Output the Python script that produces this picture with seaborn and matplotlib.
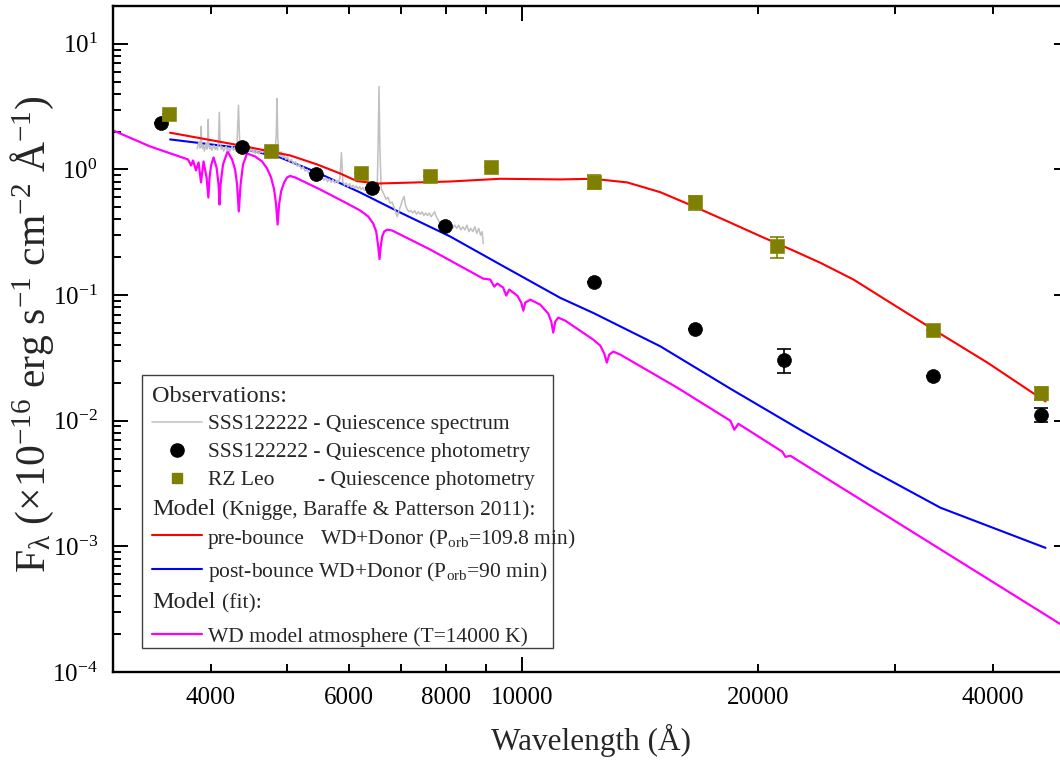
import matplotlib
matplotlib.use('Agg')
import matplotlib.pyplot as plt
import seaborn as sns
from matplotlib.lines import Line2D
from matplotlib.patches import Rectangle
from matplotlib.ticker import FixedLocator, FuncFormatter, LogLocator, NullFormatter

# SSS122222 quiescence photometry
sss_wave = [3460, 4390, 5450, 6420, 7980, 12350, 16620, 21590, 33530, 46030]
sss_flux = [2.33, 1.52, 0.912, 0.715, 0.353, 0.127, 0.0538, 0.0306, 0.0225, 0.0112]
sss_err = [0, 0, 0, 0, 0, 0, 0, 0.0065, 0, 0.0015]

# RZ Leo quiescence photometry
rz_wave = [3540, 4770, 6230, 7630, 9130, 12350, 16620, 21190, 33530, 46030]
rz_flux = [2.74, 1.39, 0.941, 0.885, 1.05, 0.798, 0.549, 0.245, 0.0531, 0.0166]
rz_err = [0, 0, 0, 0, 0, 0.1, 0.07, 0.047, 0, 0.002]

# SSS122222 quiescence spectrum
spec_wave = [3842, 3855, 3866, 3875, 3882, 3889, 3896, 3905, 3915, 3925, 3935, 3945,
             3955, 3963, 3970, 3977, 3988, 4000, 4012, 4025, 4040, 4052, 4065, 4080,
             4092, 4102, 4112, 4125, 4140, 4155, 4170, 4185, 4200, 4215, 4230, 4245,
             4260, 4275, 4290, 4305, 4322, 4340, 4356, 4372, 4388, 4405, 4420, 4440,
             4460, 4471, 4485, 4505, 4525, 4545, 4565, 4585, 4610, 4635, 4660, 4686,
             4710, 4735, 4760, 4785, 4810, 4835, 4850, 4861, 4872, 4890, 4910, 4921,
             4940, 4965, 4990, 5015, 5040, 5070, 5100, 5130, 5160, 5190, 5220, 5250,
             5280, 5310, 5340, 5370, 5400, 5430, 5460, 5490, 5520, 5550, 5580, 5610,
             5640, 5670, 5700, 5730, 5760, 5790, 5820, 5850, 5876, 5900, 5930, 5960,
             5990, 6020, 6050, 6080, 6110, 6140, 6170, 6200, 6230, 6260, 6290, 6320,
             6350, 6380, 6410, 6440, 6470, 6500, 6530, 6545, 6563, 6580, 6605, 6640,
             6700, 6740, 6780, 6820, 6860, 6900, 6925, 6960, 7000, 7030, 7065, 7095,
             7130, 7170, 7210, 7250, 7290, 7330, 7370, 7410, 7450, 7490, 7530, 7570,
             7610, 7650, 7690, 7730, 7770, 7810, 7850, 7900, 7950, 8000, 8050, 8100,
             8150, 8200, 8250, 8300, 8350, 8400, 8450, 8500, 8550, 8600, 8650, 8700,
             8750, 8800, 8850, 8890, 8919]
spec_flux = [1.46, 1.58, 1.66, 1.48, 1.56, 2.20, 1.52, 1.47, 1.55, 1.40, 1.50, 1.62,
             1.45, 1.52, 2.50, 1.58, 1.46, 1.53, 1.42, 1.49, 1.56, 1.44, 1.51, 1.43,
             1.70, 2.85, 1.62, 1.45, 1.51, 1.40, 1.47, 1.53, 1.41, 1.48, 1.39, 1.46,
             1.52, 1.42, 1.49, 1.40, 1.62, 3.24, 1.60, 1.46, 1.40, 1.48, 1.43, 1.50,
             1.39, 1.55, 1.40, 1.45, 1.37, 1.43, 1.34, 1.41, 1.33, 1.39, 1.36, 1.48,
             1.32, 1.37, 1.29, 1.34, 1.28, 1.40, 1.90, 3.68, 1.80, 1.33, 1.27, 1.38,
             1.24, 1.29, 1.20, 1.26, 1.16, 1.20, 1.11, 1.15, 1.06, 1.10, 1.01, 1.05,
             0.97, 1.00, 0.93, 0.96, 0.89, 0.93, 0.86, 0.89, 0.84, 0.87, 0.82, 0.86,
             0.80, 0.84, 0.79, 0.83, 0.78, 0.82, 0.78, 0.86, 1.36, 0.80, 0.75, 0.78,
             0.73, 0.77, 0.72, 0.75, 0.71, 0.74, 0.70, 0.73, 0.69, 0.72, 0.68, 0.71,
             0.67, 0.70, 0.66, 0.68, 0.65, 0.67, 0.75, 1.50, 4.58, 1.50, 0.70, 0.66,
             0.58, 0.60, 0.54, 0.55, 0.50, 0.45, 0.42, 0.47, 0.52, 0.57, 0.61, 0.52,
             0.48, 0.46, 0.47, 0.45, 0.47, 0.44, 0.46, 0.44, 0.46, 0.43, 0.45, 0.43,
             0.45, 0.42, 0.44, 0.46, 0.42, 0.40, 0.37, 0.38, 0.36, 0.37, 0.35, 0.36,
             0.34, 0.36, 0.34, 0.36, 0.33, 0.35, 0.33, 0.36, 0.32, 0.34, 0.32, 0.35,
             0.31, 0.34, 0.30, 0.32, 0.257]

# pre-bounce model (Porb = 109.8 min)
pre_wave = [3549, 4360, 5052, 5471, 5853, 6153, 6548, 8094, 9379, 11190, 12330, 13630,
            15020, 16550, 18290, 20170, 22220, 24060, 26520, 29300, 33560, 39330, 46660]
pre_flux = [1.961, 1.553, 1.293, 1.096, 0.929, 0.807, 0.773, 0.802, 0.843, 0.833, 0.843,
            0.788, 0.659, 0.510, 0.387, 0.294, 0.226, 0.1806, 0.1329, 0.090, 0.0531,
            0.0290, 0.01425]

# post-bounce model (Porb = 90 min)
post_wave = [3549, 4360, 4905, 5471, 6208, 6984, 8094, 9379, 11190, 12330, 15020,
             18550, 22670, 27870, 34250, 46660]
post_flux = [1.734, 1.483, 1.246, 0.946, 0.656, 0.4544, 0.2925, 0.175, 0.0950, 0.0721,
             0.0391, 0.01766, 0.00848, 0.00407, 0.00203, 0.000973]

# WD model atmosphere (T = 14000 K)
wd_wave = [3000, 3346, 3741, 3775, 3797, 3830, 3859, 3887, 3916, 3951, 3972, 3986,
           4004, 4033, 4069, 4093, 4105, 4117, 4147, 4203, 4259, 4297, 4322, 4344,
           4367, 4399, 4451, 4557, 4652, 4721, 4777, 4820, 4848, 4870, 4891, 4920,
           4964, 5008, 5052, 5127, 5519, 5942, 6210, 6358, 6452, 6509, 6548, 6573,
           6596, 6625, 6664, 6723, 6823, 7631, 8916, 9105, 9213, 9295, 9457, 9544,
           9629, 9858, 9975, 10035, 10093, 10243, 10549, 10801, 10896, 10960, 11026,
           11123, 11353, 12330, 12586, 12735, 12830, 12924, 13077, 13349, 15790,
           18457, 18675, 18895, 21514, 21702, 22022, 50000]
wd_flux = [2.046, 1.525, 1.201, 1.076, 1.180, 0.982, 1.137, 0.788, 1.158, 0.864, 0.598,
           0.864, 1.076, 1.246, 1.037, 0.759, 0.526, 0.759, 1.096, 1.391, 1.201, 1.000,
           0.759, 0.463, 0.759, 1.096, 1.341, 1.269, 1.158, 1.018, 0.864, 0.693, 0.526,
           0.3645, 0.526, 0.668, 0.788, 0.864, 0.888, 0.864, 0.693, 0.546, 0.471, 0.422,
           0.371, 0.3206, 0.2434, 0.1936, 0.2434, 0.2925, 0.3206, 0.332, 0.3265, 0.2304,
           0.1353, 0.1329, 0.1169, 0.1235, 0.1148, 0.0991, 0.1106, 0.0991, 0.0871,
           0.0752, 0.0871, 0.0920, 0.0839, 0.0712, 0.0615, 0.0503, 0.0615, 0.0662,
           0.0626, 0.0442, 0.0396, 0.0342, 0.0290, 0.0336, 0.0355, 0.0336, 0.01832,
           0.0100, 0.00848, 0.00946, 0.00566, 0.00516, 0.00526, 0.000218]

x_labeled = [4000, 6000, 8000, 10000, 20000, 40000]
x_minor = [3000, 4000, 5000, 6000, 7000, 8000, 9000, 20000, 30000, 40000]

sns.set_style('ticks')
plt.rcParams['font.family'] = ['Liberation Serif', 'DejaVu Serif']
plt.rcParams['mathtext.fontset'] = 'custom'
plt.rcParams['mathtext.rm'] = 'Liberation Serif'
plt.rcParams['mathtext.it'] = 'Liberation Serif:italic'
plt.rcParams['mathtext.bf'] = 'Liberation Serif:bold'

W, H = 1060, 762
fig = plt.figure(figsize=(W / 100, H / 100), dpi=100)
# right spine falls just outside the picture, as in the original
ax = fig.add_axes([113 / W, 1 - 672 / H, (1069 - 113) / W, (672 - 6) / H])
ax.set_xscale('log')
ax.set_yscale('log')

# model curves and spectrum
sns.lineplot(x=wd_wave, y=wd_flux, ax=ax, color='#ff00ff', linewidth=1.6,
             sort=False, estimator=None, zorder=2)
sns.lineplot(x=post_wave, y=post_flux, ax=ax, color='#0000ff', linewidth=1.5,
             sort=False, estimator=None, zorder=2)
sns.lineplot(x=spec_wave, y=spec_flux, ax=ax, color='#c0c0c0', linewidth=1.1,
             sort=False, estimator=None, zorder=3)
sns.lineplot(x=pre_wave, y=pre_flux, ax=ax, color='#ff0000', linewidth=1.5,
             sort=False, estimator=None, zorder=3)

# photometry
ax.errorbar(rz_wave, rz_flux, yerr=rz_err, fmt='none', ecolor='#808000',
            elinewidth=1.2, capsize=5, capthick=1.2, zorder=4)
ax.errorbar(sss_wave, sss_flux, yerr=sss_err, fmt='none', ecolor='black',
            elinewidth=1.2, capsize=5, capthick=1.2, zorder=4)
sns.scatterplot(x=sss_wave, y=sss_flux, ax=ax, marker='o', s=100, color='black',
                edgecolor='black', linewidth=0.5, zorder=5)
sns.scatterplot(x=rz_wave, y=rz_flux, ax=ax, marker='s', s=90, color='#808000',
                edgecolor='#8a8a10', linewidth=0.5, zorder=5)

ax.set_xlim(3000, 50000)
ax.set_ylim(1e-4, 20)

# ticks
ax.xaxis.set_major_locator(FixedLocator([10000]))
ax.xaxis.set_minor_locator(FixedLocator(x_minor))
ax.xaxis.set_major_formatter(FuncFormatter(lambda v, p: f'{int(round(v))}'))
ax.xaxis.set_minor_formatter(FuncFormatter(
    lambda v, p: f'{int(round(v))}' if int(round(v)) in x_labeled else ''))
ax.yaxis.set_major_locator(LogLocator(base=10, numticks=12))
ax.yaxis.set_minor_locator(LogLocator(base=10, subs=range(2, 10), numticks=12))
ax.yaxis.set_minor_formatter(NullFormatter())

ax.tick_params(which='both', direction='in', top=True, right=True, width=1.4,
               colors='black', pad=11)
ax.tick_params(which='major', length=10.5)
ax.tick_params(which='minor', length=5.8)
ax.tick_params(axis='x', which='both', labelsize=18)
ax.tick_params(axis='y', which='both', labelsize=18)
for side in ax.spines.values():
    side.set_linewidth(1.7)
    side.set_color('black')

ax.set_xlabel('Wavelength (Å)', fontsize=22.5)
ax.xaxis.set_label_coords(0.5, -0.078)
ax.set_ylabel(r'F$_{\mathrm{λ}}$ (×10$^{-16}$ erg s$^{-1}$ cm$^{-2}$ Å$^{-1}$)',
              fontsize=30)
ax.yaxis.set_label_coords(-0.06, 0.507)


# legend drawn by hand (header rows have no handle)
def fx(x):
    return x / W


def fy(y):
    return 1 - y / H


fig.add_artist(Rectangle((fx(142), fy(648)), (553 - 142) / W, (648 - 375) / H,
                         transform=fig.transFigure, facecolor='white',
                         edgecolor='#404040', linewidth=1.0, zorder=5))

big, small = 17.5, 15.5


def txt(x, y, s, size=small):
    fig.text(fx(x), fy(y), s, fontsize=size, va='baseline', ha='left', zorder=6)


def hline(y, color, lw=1.5):
    fig.add_artist(Line2D([fx(152), fx(202)], [fy(y), fy(y)], color=color, lw=lw,
                          transform=fig.transFigure, zorder=6))


txt(152, 401.7, 'Observations:', big)
hline(421.7, '#c0c0c0', 1.1)
txt(208, 429.3, 'SSS122222 - Quiescence spectrum')
fig.add_artist(Line2D([fx(177)], [fy(450)], marker='o', ms=9.5, color='black',
                      ls='none', transform=fig.transFigure, zorder=6))
txt(208, 457.3, 'SSS122222 - Quiescence photometry')
fig.add_artist(Line2D([fx(177)], [fy(478)], marker='s', ms=7.5, color='#808000',
                      ls='none', transform=fig.transFigure, zorder=6))
txt(208, 485, 'RZ Leo')
txt(318, 485, '- Quiescence photometry')
txt(152, 515, 'Model', big)
txt(222, 515, '(Knigge, Baraffe & Patterson 2011):')
hline(535, '#ff0000')
txt(208, 544, 'pre-bounce')
txt(320, 544, r'WD+Donor (P$_{\mathrm{orb}}$=109.8 min)')
hline(569, '#0000ff')
txt(208, 577.3, r'post-bounce WD+Donor (P$_{\mathrm{orb}}$=90 min)')
txt(152, 608.3, 'Model', big)
txt(222, 608.3, '(fit):')
hline(634, '#ff00ff', 1.6)
txt(208, 641.7, 'WD model atmosphere (T=14000 K)')

fig.savefig('out.png', dpi=100)
